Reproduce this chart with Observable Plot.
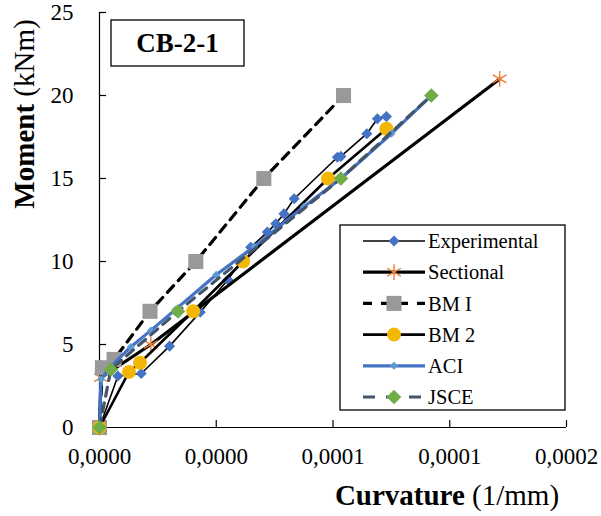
<!DOCTYPE html>
<html>
<head>
<meta charset="utf-8">
<script src="https://cdn.jsdelivr.net/npm/d3@7"></script>
<script src="https://cdn.jsdelivr.net/npm/@observablehq/plot@0.6"></script>
<style>
  html, body { margin: 0; padding: 0; background: #fff; }
  #chart { width: 601px; height: 516px; }
  svg { font-family: "Liberation Serif", "Times New Roman", serif; }
</style>
</head>
<body>
<div id="chart"></div>
<script>
// Curvature values are given in units of 1e-5 (1/mm); moments in kNm
const CURV_UNIT = 1e-5;

const expCurv = [0, 0.63, 1.43, 2.4, 3.45, 4.4, 5.18, 5.75, 6.04, 6.32, 6.67, 8.15, 8.27, 9.16, 9.52, 9.83];
const expMoment = [0, 3.1, 3.25, 4.9, 6.95, 8.9, 10.86, 11.77, 12.27, 12.87, 13.78, 16.28, 16.33, 17.7, 18.6, 18.73];

const secCurv = [0, 0.05, 1.76, 13.71];
const secMoment = [0, 3.0, 5.0, 21.0];

const bm1Curv = [0, 0.1, 0.5, 1.73, 3.3, 5.63, 8.36];
const bm1Moment = [0, 3.6, 4.1, 7, 10, 15, 20];

const bm2Curv = [0, 1.01, 1.39, 3.21, 4.92, 7.83, 9.83];
const bm2Moment = [0, 3.35, 3.9, 7, 10, 15, 18];

const aciCurv = [0, 0.05, 0.4, 1.07, 1.76, 2.6, 4.0, 5.3, 7.0, 8.27, 10.0, 11.37];
const aciMoment = [0, 2.9, 3.7, 4.85, 5.85, 7.1, 9.2, 10.9, 13.3, 15, 17.7, 20];

const jsceCurv = [0, 0.39, 2.69, 8.27, 11.37];
const jsceMoment = [0, 3.5, 7, 15, 20];

const xTicks = [0, 0.00004, 0.00008, 0.00012, 0.00016];
const xTickLabels = ["0,0000", "0,0000", "0,0001", "0,0001", "0,0002"];
const yTicks = [0, 5, 10, 15, 20, 25];

const seriesNames = ["Experimental", "Sectional", "BM I", "BM 2", "ACI", "JSCE"];
const chartTitle = "CB-2-1";

const toRows = (cs, ms) => cs.map((c, i) => ({x: c * CURV_UNIT, y: ms[i]}));
const exp = toRows(expCurv, expMoment);
const sec = toRows(secCurv, secMoment);
const bm1 = toRows(bm1Curv, bm1Moment);
const bm2 = toRows(bm2Curv, bm2Moment);
const aci = toRows(aciCurv, aciMoment);
const jsce = toRows(jsceCurv, jsceMoment);

const styles = {
  exp:  {line: "#000", lw: 1.6, dash: null, sym: "diamond2", r: 5, fill: "#4472C4", stroke: null},
  sec:  {line: "#000", lw: 3.2, dash: null, sym: "asterisk", r: 7.5, fill: "none", stroke: "#ED7D31"},
  bm1:  {line: "#000", lw: 3.2, dash: "9,7", sym: "square", r: 8.5, fill: "#999999", stroke: null},
  bm2:  {line: "#000", lw: 2.6, dash: null, sym: "circle", r: 7, fill: "#F2B705", stroke: null},
  aci:  {line: "#4472C4", lw: 3.2, dash: null, sym: "diamond2", r: 3.6, fill: "#5B9BD5", stroke: null},
  jsce: {line: "#44546A", lw: 3.2, dash: "9,7", sym: "diamond2", r: 6.6, fill: "#70AD47", stroke: null}
};

function seriesMarks(data, s) {
  const lineOpts = {x: "x", y: "y", stroke: s.line, strokeWidth: s.lw};
  if (s.dash) lineOpts.strokeDasharray = s.dash;
  const dotOpts = {x: "x", y: "y", symbol: s.sym, r: s.r};
  if (s.stroke) { dotOpts.stroke = s.stroke; dotOpts.fill = "none"; dotOpts.strokeWidth = 1.4; }
  else { dotOpts.fill = s.fill; dotOpts.stroke = "none"; }
  return [Plot.line(data, lineOpts), Plot.dot(data, dotOpts)];
}

const W = 601, H = 516;
const mL = 99, mR = 35, mT = 12, mB = 89;

const chart = Plot.plot({
  width: W, height: H,
  marginLeft: mL, marginRight: mR, marginTop: mT, marginBottom: mB,
  style: {fontFamily: "Liberation Serif, Times New Roman, serif", fontSize: "23px", color: "#000", background: "#fff"},
  x: {domain: [0, 0.00016]},
  y: {domain: [0, 25]},
  marks: [
    Plot.ruleX([0], {stroke: "#000", strokeWidth: 1.2}),
    Plot.ruleY([0], {stroke: "#000", strokeWidth: 1.2}),
    Plot.tickX(xTicks, {x: d => d, insetTop: (H - mT - mB) - 7, stroke: "#000", strokeWidth: 1.2}),
    Plot.tickY(yTicks, {y: d => d, insetRight: (W - mL - mR) - 7, stroke: "#000", strokeWidth: 1.2}),
    Plot.axisY({ticks: yTicks, tickSize: 0, tickPadding: 26, label: null, fontSize: 23}),
    Plot.axisX({ticks: xTicks, tickSize: 0, tickPadding: 20, label: null, fontSize: 23,
      tickFormat: d => xTickLabels[xTicks.indexOf(d)]}),
    ...seriesMarks(exp, styles.exp),
    ...seriesMarks(sec, styles.sec),
    ...seriesMarks(bm1, styles.bm1),
    ...seriesMarks(bm2, styles.bm2),
    ...seriesMarks(aci, styles.aci),
    ...seriesMarks(jsce, styles.jsce)
  ]
});

document.getElementById("chart").appendChild(chart);

// Annotations: title box, axis titles, legend
const svg = d3.select(chart);
const font = "Liberation Serif, Times New Roman, serif";

// Title box
const tb = svg.append("g");
tb.append("rect").attr("x", 111).attr("y", 20).attr("width", 133).attr("height", 46)
  .attr("fill", "#fff").attr("stroke", "#000").attr("stroke-width", 1.3);
tb.append("text").attr("x", 177.5).attr("y", 43).attr("dy", "0.35em")
  .attr("text-anchor", "middle").attr("font-family", font).attr("font-weight", "bold")
  .attr("font-size", 27).attr("fill", "#000").text(chartTitle);

// Y axis title
const yt = svg.append("text").attr("transform", "translate(34,114) rotate(-90)")
  .attr("text-anchor", "middle").attr("font-family", font).attr("font-size", 29).attr("fill", "#000");
yt.append("tspan").attr("font-weight", "bold").text("Moment");
yt.append("tspan").text(" (kNm)");

// X axis title
const xt = svg.append("text").attr("x", 447).attr("y", 505)
  .attr("text-anchor", "middle").attr("font-family", font).attr("font-size", 29).attr("fill", "#000");
xt.append("tspan").attr("font-weight", "bold").text("Curvature");
xt.append("tspan").text(" (1/mm)");

// Legend
const lg = svg.append("g");
lg.append("rect").attr("x", 340).attr("y", 225).attr("width", 225).attr("height", 185)
  .attr("fill", "#fff").attr("stroke", "#000").attr("stroke-width", 1.3);
const keys = ["exp", "sec", "bm1", "bm2", "aci", "jsce"];
keys.forEach((k, i) => {
  const s = styles[k];
  const yy = 241 + i * 31.2;
  const ln = lg.append("line").attr("x1", 363).attr("x2", 425).attr("y1", yy).attr("y2", yy)
    .attr("stroke", s.line).attr("stroke-width", s.lw);
  if (s.dash) ln.attr("stroke-dasharray", k === "bm1" ? "9,9,27,9" : "12,11");
  const sym = {diamond2: d3.symbolDiamond2, asterisk: d3.symbolAsterisk, square: d3.symbolSquare, circle: d3.symbolCircle}[s.sym];
  const p = lg.append("path").attr("transform", `translate(394,${yy})`)
    .attr("d", d3.symbol(sym, s.r * s.r * Math.PI)());
  if (s.stroke) p.attr("fill", "none").attr("stroke", s.stroke).attr("stroke-width", 1.4);
  else p.attr("fill", s.fill);
  lg.append("text").attr("x", 428).attr("y", yy).attr("dy", "0.35em")
    .attr("text-anchor", "start")
    .attr("font-family", font).attr("font-size", 20.5).attr("fill", "#000").text(seriesNames[i]);
});
</script>
</body>
</html>
